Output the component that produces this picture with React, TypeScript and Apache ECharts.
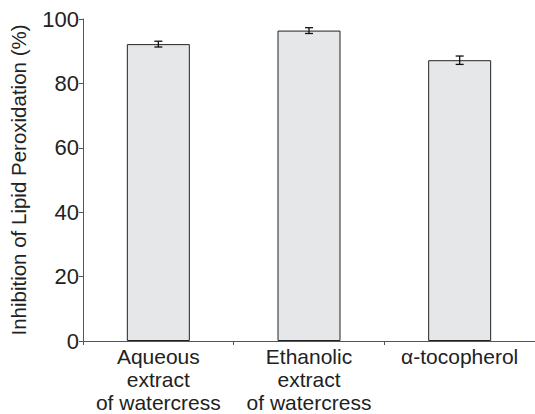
import React, { useEffect, useRef } from "react";
import * as echarts from "echarts";

const categories = ["Aqueous\nextract\nof watercress", "Ethanolic\nextract\nof watercress", "α-tocopherol"];
const values = [92.2, 96.4, 87.2];
const errors = [0.9, 0.9, 1.3];
const yTicks = [0, 20, 40, 60, 80, 100];

export default function App() {
  const ref = useRef<HTMLDivElement>(null);
  useEffect(() => {
    const chart = echarts.init(ref.current!, undefined, { renderer: "svg" });
    const errData = values.map((v, i) => [i, v - errors[i], v + errors[i]]);
    chart.setOption({
      animation: false,
      grid: { left: 81, top: 19, bottom: 72, right: -13, containLabel: false },
      xAxis: {
        type: "category",
        data: categories,
        axisLine: { lineStyle: { color: "#555", width: 1 } },
        axisTick: { show: true, length: 4, lineStyle: { color: "#555" }, alignWithLabel: false },
        axisLabel: {
          interval: 0,
          color: "#222",
          fontFamily: "Liberation Sans, Arial, sans-serif",
          fontSize: 21,
          lineHeight: 23,
          margin: 4,
        },
      },
      yAxis: {
        type: "value",
        min: 0,
        max: 100,
        interval: 20,
        name: "Inhibition of Lipid Peroxidation (%)",
        nameLocation: "middle",
        nameGap: 54,
        nameTextStyle: {
          color: "#222",
          fontFamily: "Liberation Sans, Arial, sans-serif",
          fontSize: 20.5,
        },
        splitLine: { show: false },
        axisLine: { show: true, lineStyle: { color: "#555", width: 1 } },
        axisTick: { show: true, length: 4, lineStyle: { color: "#555" } },
        axisLabel: {
          color: "#222",
          fontFamily: "Liberation Sans, Arial, sans-serif",
          fontSize: 22,
          margin: 4,
          formatter: (v: number) => (yTicks.includes(v) ? String(v) : ""),
        },
      },
      series: [
        {
          type: "bar",
          data: values,
          barWidth: 63,
          itemStyle: { color: "#e6e7e8", borderColor: "#222", borderWidth: 1 },
        },
        {
          type: "custom",
          data: errData,
          z: 10,
          renderItem: (params: any, api: any) => {
            const x = api.value(0);
            const lo = api.coord([x, api.value(1)]);
            const hi = api.coord([x, api.value(2)]);
            const hw = 4;
            const style = { stroke: "#111", lineWidth: 1.3 };
            return {
              type: "group",
              children: [
                { type: "line", shape: { x1: lo[0], y1: lo[1], x2: hi[0], y2: hi[1] }, style },
                { type: "line", shape: { x1: lo[0] - hw, y1: lo[1], x2: lo[0] + hw, y2: lo[1] }, style },
                { type: "line", shape: { x1: hi[0] - hw, y1: hi[1], x2: hi[0] + hw, y2: hi[1] }, style },
              ],
            };
          },
        },
      ],
    });
    return () => chart.dispose();
  }, []);
  return <div ref={ref} style={{ width: 535, height: 414, position: "absolute", left: 0, top: 0 }} />;
}
